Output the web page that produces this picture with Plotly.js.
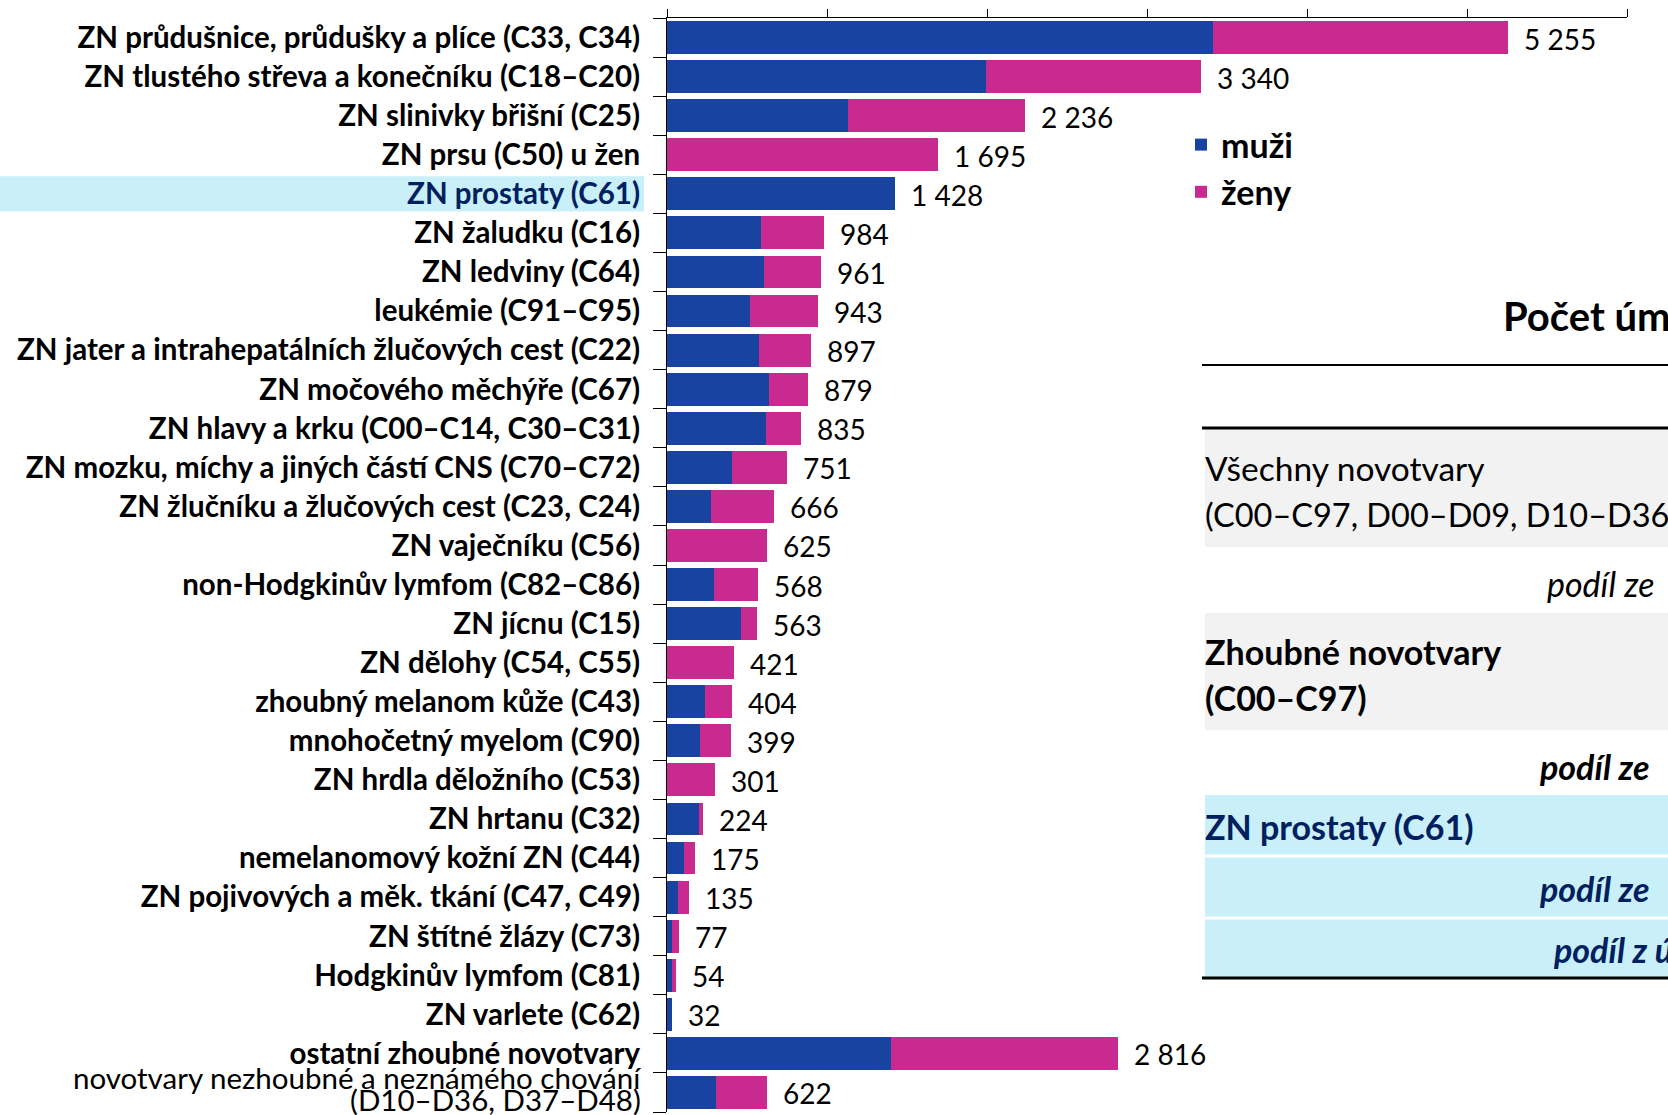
<!DOCTYPE html>
<html>
<head>
<meta charset="utf-8">
<script src="https://cdn.plot.ly/plotly-3.0.1.min.js"></script>
<style>
  html, body { margin: 0; padding: 0; background: #fff; }
  #chart { width: 1668px; height: 1115px; }
</style>
</head>
<body>
<div id="chart"></div>
<script>
// ---------- DATA ----------
const categories = [
  "ZN průdušnice, průdušky a plíce (C33, C34)",
  "ZN tlustého střeva a konečníku (C18–C20)",
  "ZN slinivky břišní (C25)",
  "ZN prsu (C50) u žen",
  "ZN prostaty (C61)",
  "ZN žaludku (C16)",
  "ZN ledviny (C64)",
  "leukémie (C91–C95)",
  "ZN jater a intrahepatálních žlučových cest (C22)",
  "ZN močového měchýře (C67)",
  "ZN hlavy a krku (C00–C14, C30–C31)",
  "ZN mozku, míchy a jiných částí CNS (C70–C72)",
  "ZN žlučníku a žlučových cest (C23, C24)",
  "ZN vaječníku (C56)",
  "non-Hodgkinův lymfom (C82–C86)",
  "ZN jícnu (C15)",
  "ZN dělohy (C54, C55)",
  "zhoubný melanom kůže (C43)",
  "mnohočetný myelom (C90)",
  "ZN hrdla děložního (C53)",
  "ZN hrtanu (C32)",
  "nemelanomový kožní ZN (C44)",
  "ZN pojivových a měk. tkání (C47, C49)",
  "ZN štítné žlázy (C73)",
  "Hodgkinův lymfom (C81)",
  "ZN varlete (C62)",
  "ostatní zhoubné novotvary",
  "novotvary nezhoubné a neznámého chování (D10–D36, D37–D48)"
];

// tick labels (the last one, a two-line regular label, is drawn as two text lines below)
const tickLabels = [
  "<b>ZN průdušnice, průdušky a plíce (C33, C34)</b>",
  "<b>ZN tlustého střeva a konečníku (C18–C20)</b>",
  "<b>ZN slinivky břišní (C25)</b>",
  "<b>ZN prsu (C50) u žen</b>",
  "<b><span style=\"color:#002060\">ZN prostaty (C61)</span></b>",
  "<b>ZN žaludku (C16)</b>",
  "<b>ZN ledviny (C64)</b>",
  "<b>leukémie (C91–C95)</b>",
  "<b>ZN jater a intrahepatálních žlučových cest (C22)</b>",
  "<b>ZN močového měchýře (C67)</b>",
  "<b>ZN hlavy a krku (C00–C14, C30–C31)</b>",
  "<b>ZN mozku, míchy a jiných částí CNS (C70–C72)</b>",
  "<b>ZN žlučníku a žlučových cest (C23, C24)</b>",
  "<b>ZN vaječníku (C56)</b>",
  "<b>non-Hodgkinův lymfom (C82–C86)</b>",
  "<b>ZN jícnu (C15)</b>",
  "<b>ZN dělohy (C54, C55)</b>",
  "<b>zhoubný melanom kůže (C43)</b>",
  "<b>mnohočetný myelom (C90)</b>",
  "<b>ZN hrdla děložního (C53)</b>",
  "<b>ZN hrtanu (C32)</b>",
  "<b>nemelanomový kožní ZN (C44)</b>",
  "<b>ZN pojivových a měk. tkání (C47, C49)</b>",
  "<b>ZN štítné žlázy (C73)</b>",
  "<b>Hodgkinův lymfom (C81)</b>",
  "<b>ZN varlete (C62)</b>",
  "<b>ostatní zhoubné novotvary</b>",
  ""
];
const lastLabelLines = ["novotvary nezhoubné a neznámého chování", "(D10–D36, D37–D48)"];

const men   = [3411, 1993, 1133,    0, 1428, 585, 604, 519, 575, 637, 621, 408, 275,   0, 296, 460,   0, 240, 206,   0, 200, 104, 71, 31, 32, 32, 1400, 308];
const women = [1844, 1347, 1103, 1695,    0, 399, 357, 424, 322, 242, 214, 343, 391, 625, 272, 103, 421, 164, 193, 301,  24,  71, 64, 46, 22,  0, 1416, 314];
const totals = [5255, 3340, 2236, 1695, 1428, 984, 961, 943, 897, 879, 835, 751, 666, 625, 568, 563, 421, 404, 399, 301, 224, 175, 135, 77, 54, 32, 2816, 622];

const seriesNames = ["muži", "ženy"];
const highlightCategory = "ZN prostaty (C61)";

// ---------- LAYOUT HELPERS (pixel -> paper) ----------
const W = 1668, H = 1115;
const M = { l: 667, r: 41, t: 18, b: 3 };
const PW = W - M.l - M.r, PH = H - M.t - M.b;
const px = p => (p - M.l) / PW;
const py = p => (H - M.b - p) / PH;

const FONT = "Lato, 'Open Sans', sans-serif";
const BLUE = "#1843a0", PINK = "#c92a8f", NAVY = "#002060";
const LIGHTBLUE = "#c9eff8", GRAY = "#f2f2f2";
const TICKSIZE = 29.5;

const fmt = v => String(v).replace(/\B(?=(\d{3})+(?!\d))/g, " ");

const traces = [
  { type: "bar", orientation: "h", name: seriesNames[0], y: categories, x: men,
    marker: { color: BLUE, line: { width: 0 } } },
  { type: "bar", orientation: "h", name: seriesNames[1], y: categories, x: women,
    marker: { color: PINK, line: { width: 0 } } }
];

const hiIdx = categories.indexOf(highlightCategory);
const lastCat = categories[categories.length - 1];

const shapes = [
  // highlighted label background
  { type: "rect", layer: "below", xref: "paper", yref: "y",
    x0: px(0), x1: px(644), y0: hiIdx - 0.45, y1: hiIdx + 0.45,
    fillcolor: LIGHTBLUE, line: { width: 0 } },
  // table
  { type: "line", xref: "paper", yref: "paper", x0: px(1202), x1: px(1668), y0: py(365), y1: py(365), line: { color: "#000", width: 2 } },
  { type: "rect", xref: "paper", yref: "paper", x0: px(1205), x1: px(1668), y0: py(429), y1: py(547), fillcolor: GRAY, line: { width: 0 } },
  { type: "line", xref: "paper", yref: "paper", x0: px(1202), x1: px(1668), y0: py(428), y1: py(428), line: { color: "#000", width: 3 } },
  { type: "rect", xref: "paper", yref: "paper", x0: px(1205), x1: px(1668), y0: py(613), y1: py(730), fillcolor: GRAY, line: { width: 0 } },
  { type: "rect", xref: "paper", yref: "paper", x0: px(1205), x1: px(1668), y0: py(795), y1: py(977), fillcolor: LIGHTBLUE, line: { width: 0 } },
  { type: "line", xref: "paper", yref: "paper", x0: px(1205), x1: px(1668), y0: py(856), y1: py(856), line: { color: "#fff", width: 3 } },
  { type: "line", xref: "paper", yref: "paper", x0: px(1205), x1: px(1668), y0: py(918), y1: py(918), line: { color: "#fff", width: 3 } },
  { type: "line", xref: "paper", yref: "paper", x0: px(1202), x1: px(1668), y0: py(978), y1: py(978), line: { color: "#000", width: 3 } }
];

function ann(text, x, y, size, color, extra) {
  return Object.assign({ xref: "paper", yref: "paper", x: px(x), y: py(y),
    xanchor: "left", yanchor: "middle", showarrow: false, text: text,
    font: { family: FONT, size: size, color: color || "#000" } }, extra || {});
}

const annotations = [
  ann("<b>Počet úm</b>", 1501, 316, 40),
  ann("Všechny novotvary", 1203, 468, 33.5),
  ann("(C00–C97, D00–D09, D10–D36", 1203, 514, 32.5),
  ann("<i>podíl ze</i>", 1545, 583, 34),
  ann("<b>Zhoubné novotvary</b>", 1203, 651, 34),
  ann("<b>(C00–C97)</b>", 1203, 697, 34),
  ann("<b><i>podíl ze</i></b>", 1537, 766, 34),
  ann("<b>ZN prostaty (C61)</b>", 1203, 826, 34, NAVY),
  ann("<b><i>podíl ze</i></b>", 1537, 888, 34, NAVY),
  ann("<b><i>podíl z ú</i></b>", 1551, 949, 34, NAVY),
  // last category label, two tight lines
  { xref: "paper", yref: "y", x: px(643), y: lastCat, xanchor: "right", yanchor: "middle",
    yshift: 15, showarrow: false, text: lastLabelLines[0],
    font: { family: FONT, size: TICKSIZE, color: "#000" } },
  { xref: "paper", yref: "y", x: px(643), y: lastCat, xanchor: "right", yanchor: "middle",
    yshift: -7, showarrow: false, text: lastLabelLines[1],
    font: { family: FONT, size: TICKSIZE, color: "#000" } }
];

// value labels at the end of each bar
categories.forEach((c, i) => {
  annotations.push({ xref: "x", yref: "y", x: totals[i], y: c, xanchor: "left", yanchor: "middle",
    xshift: 14, yshift: -1, showarrow: false, text: fmt(totals[i]),
    font: { family: FONT, size: 28, color: "#000" } });
});

const layout = {
  width: W, height: H,
  margin: M,
  paper_bgcolor: "#fff", plot_bgcolor: "#fff",
  barmode: "stack", bargap: 0.16,
  hovermode: false,
  font: { family: FONT, color: "#000" },
  showlegend: true,
  legend: { x: px(1181), y: py(116), xanchor: "left", yanchor: "top",
    traceorder: "normal", bgcolor: "rgba(0,0,0,0)",
    font: { family: FONT, size: 34, color: "#000", weight: "bold" } },
  xaxis: { side: "top", range: [0, 6000], tick0: 0, dtick: 1000, showticklabels: false,
    ticks: "outside", ticklen: 8, tickcolor: "#000", showline: true, linecolor: "#000",
    linewidth: 1, showgrid: false, zeroline: false },
  yaxis: { type: "category", range: [categories.length - 0.5, -0.5], autorange: false,
    tickmode: "array", tickvals: categories, ticktext: tickLabels,
    ticks: "outside", tickson: "boundaries",
    ticklen: 13, tickcolor: "#000", showline: true, linecolor: "#000", linewidth: 1,
    showgrid: false, zeroline: false, ticklabelstandoff: 20,
    tickfont: { family: FONT, size: TICKSIZE, color: "#000" } },
  shapes: shapes,
  annotations: annotations
};

Plotly.newPlot("chart", traces, layout, { displayModeBar: false, staticPlot: true });
</script>
</body>
</html>
